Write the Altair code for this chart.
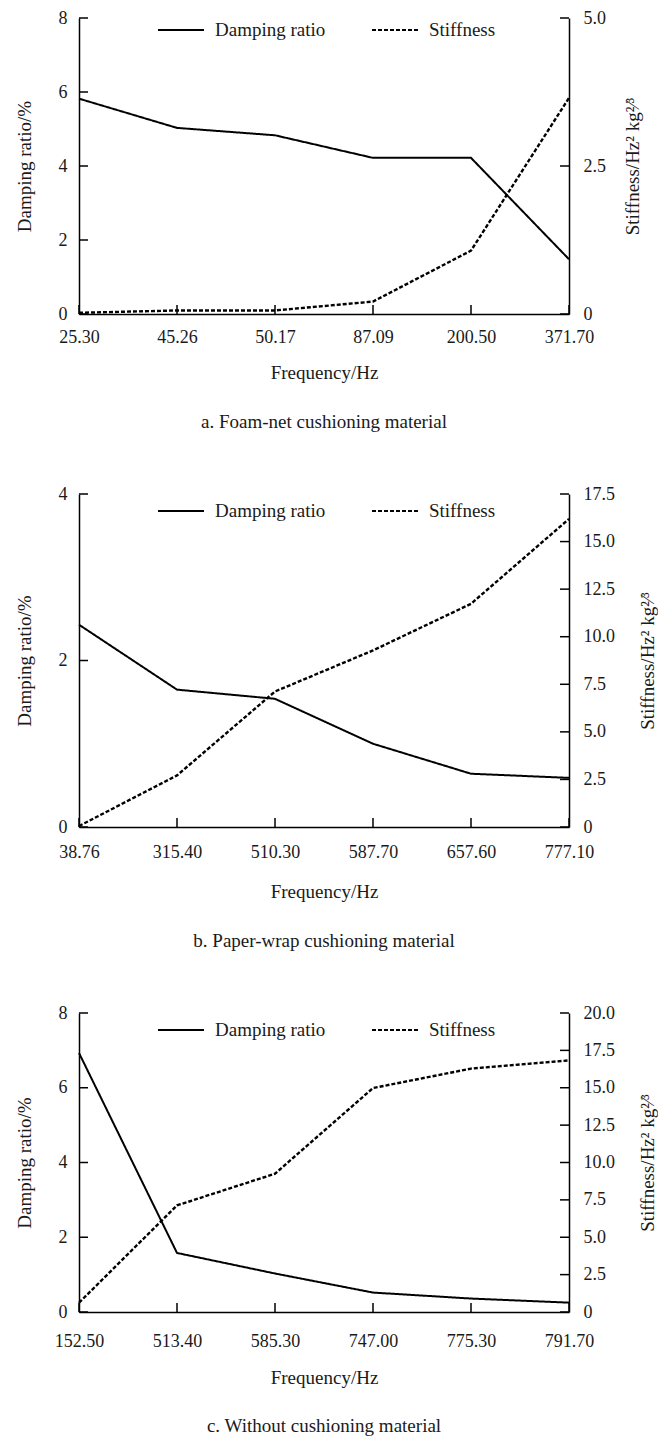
import altair as alt
import pandas as pd

SERIES = ["Damping ratio", "Stiffness"]

# Panel a: Foam-net cushioning material
freq_a = ["25.30", "45.26", "50.17", "87.09", "200.50", "371.70"]
damp_a = [5.82, 5.03, 4.83, 4.22, 4.22, 1.48]
stiff_a = [0.02, 0.06, 0.06, 0.21, 1.07, 3.65]

# Panel b: Paper-wrap cushioning material
freq_b = ["38.76", "315.40", "510.30", "587.70", "657.60", "777.10"]
damp_b = [2.43, 1.65, 1.54, 1.00, 0.64, 0.59]
stiff_b = [0.05, 2.71, 7.12, 9.28, 11.73, 16.19]

# Panel c: Without cushioning material
freq_c = ["152.50", "513.40", "585.30", "747.00", "775.30", "791.70"]
damp_c = [6.93, 1.58, 1.03, 0.52, 0.36, 0.25]
stiff_c = [0.62, 7.13, 9.25, 14.98, 16.28, 16.83]

left_ticks_a = [0, 2, 4, 6, 8]
right_ticks_a = [0, 2.5, 5.0]
left_ticks_b = [0, 2, 4]
right_ticks_b = [0, 2.5, 5.0, 7.5, 10.0, 12.5, 15.0, 17.5]
left_ticks_c = [0, 2, 4, 6, 8]
right_ticks_c = [0, 2.5, 5.0, 7.5, 10.0, 12.5, 15.0, 17.5, 20.0]

captions = ["a. Foam-net cushioning material",
            "b. Paper-wrap cushioning material",
            "c. Without cushioning material"]

FONT = "Liberation Serif, Times New Roman, Times, serif"
TXT = "#1a1a1a"
W = 490
TICK = 9


def panel(freq, damp, stiff, lticks, rticks, height, caption,
          legend_y, lab_pad, x_title_pad, cap_offset, r_title_pad):
    ldom = [lticks[0], lticks[-1]]
    rdom = [rticks[0], rticks[-1]]
    xs = alt.Scale(type="point", domain=freq, padding=0)
    dash = alt.Scale(domain=SERIES, range=[[1, 0], [4, 2]])

    df_d = pd.DataFrame({"f": freq, "v": damp, "series": SERIES[0]})
    df_s = pd.DataFrame({"f": freq, "v": stiff, "series": SERIES[1]})

    legend = alt.Legend(orient="none", legendX=78, legendY=legend_y,
                        direction="horizontal", symbolType="stroke",
                        symbolSize=2116, symbolStrokeWidth=1.8,
                        symbolStrokeColor="black", clipHeight=20,
                        labelFont=FONT, labelFontSize=19, labelColor=TXT,
                        labelOffset=10, columnPadding=45, padding=0)

    x_axis = alt.Axis(title="Frequency/Hz", labelAngle=0, ticks=False,
                      grid=False, labelPadding=lab_pad,
                      titlePadding=x_title_pad)
    l_axis = alt.Axis(values=lticks, title="Damping ratio/%",
                      ticks=False, grid=False, labelPadding=12,
                      titlePadding=24)
    r_axis = alt.Axis(orient="right", values=rticks,
                      labelExpr="datum.value == 0 ? '0' : format(datum.value, '.1f')",
                      title="Stiffness/Hz\u00b2 kg\u00b2\u2044\u00b3",
                      titleAngle=-90, titleBaseline="top",
                      ticks=False, grid=False, labelPadding=14,
                      titlePadding=r_title_pad)
    lscale = alt.Scale(domain=ldom)
    rscale = alt.Scale(domain=rdom)

    damp_line = alt.Chart(df_d).mark_line(color="black", strokeWidth=2.0).encode(
        x=alt.X("f:N", scale=xs, axis=x_axis),
        y=alt.Y("v:Q", scale=lscale, axis=l_axis),
        strokeDash=alt.StrokeDash("series:N", scale=dash, legend=legend,
                                  title=None),
    )
    lt = alt.Chart(pd.DataFrame({"v": lticks})).mark_rule(
        color="black", strokeWidth=1.5).encode(
        y=alt.Y("v:Q", scale=lscale, axis=l_axis),
        x=alt.value(0), x2=alt.value(TICK))
    xt = alt.Chart(pd.DataFrame({"f": freq})).mark_rule(
        color="black", strokeWidth=1.5).encode(
        x=alt.X("f:N", scale=xs, axis=x_axis),
        y=alt.value(height), y2=alt.value(height - TICK))

    stiff_line = alt.Chart(df_s).mark_line(color="black", strokeWidth=2.4).encode(
        x=alt.X("f:N", scale=xs, axis=x_axis),
        y=alt.Y("v:Q", scale=rscale, axis=r_axis),
        strokeDash=alt.StrokeDash("series:N", scale=dash, legend=legend,
                                  title=None),
    )
    rt = alt.Chart(pd.DataFrame({"v": rticks})).mark_rule(
        color="black", strokeWidth=1.5).encode(
        y=alt.Y("v:Q", scale=rscale, axis=r_axis),
        x=alt.value(W), x2=alt.value(W - TICK))

    left = alt.layer(damp_line, lt, xt)
    right = alt.layer(stiff_line, rt)
    return alt.layer(left, right).resolve_scale(y="independent").properties(
        width=W, height=height,
        title=alt.TitleParams(text=caption, orient="bottom", anchor="middle",
                              frame="group", font=FONT, fontSize=19,
                              fontWeight="normal", color=TXT,
                              offset=cap_offset))


pa = panel(freq_a, damp_a, stiff_a, left_ticks_a, right_ticks_a, 296,
           captions[0], 2, 14, 17, 31, 18)
pb = panel(freq_b, damp_b, stiff_b, left_ticks_b, right_ticks_b, 333,
           captions[1], 7, 16, 21, 31, 24)
pc = panel(freq_c, damp_c, stiff_c, left_ticks_c, right_ticks_c, 299,
           captions[2], 7, 20, 18, 30, 24)

chart = alt.vconcat(pa, pb, pc, spacing=51).resolve_scale(
    strokeDash="independent"
).properties(
    padding={"left": 6, "top": 0, "right": 0, "bottom": 0},
    background="white"
).configure_view(
    stroke="transparent"
).configure_axis(
    labelFont=FONT, labelFontSize=18, labelColor=TXT,
    titleFont=FONT, titleFontSize=19, titleFontWeight="normal", titleColor=TXT,
    domainColor="black", domainWidth=1.5
)

chart.save("out.html", embed_options={"renderer": "svg", "actions": False})
